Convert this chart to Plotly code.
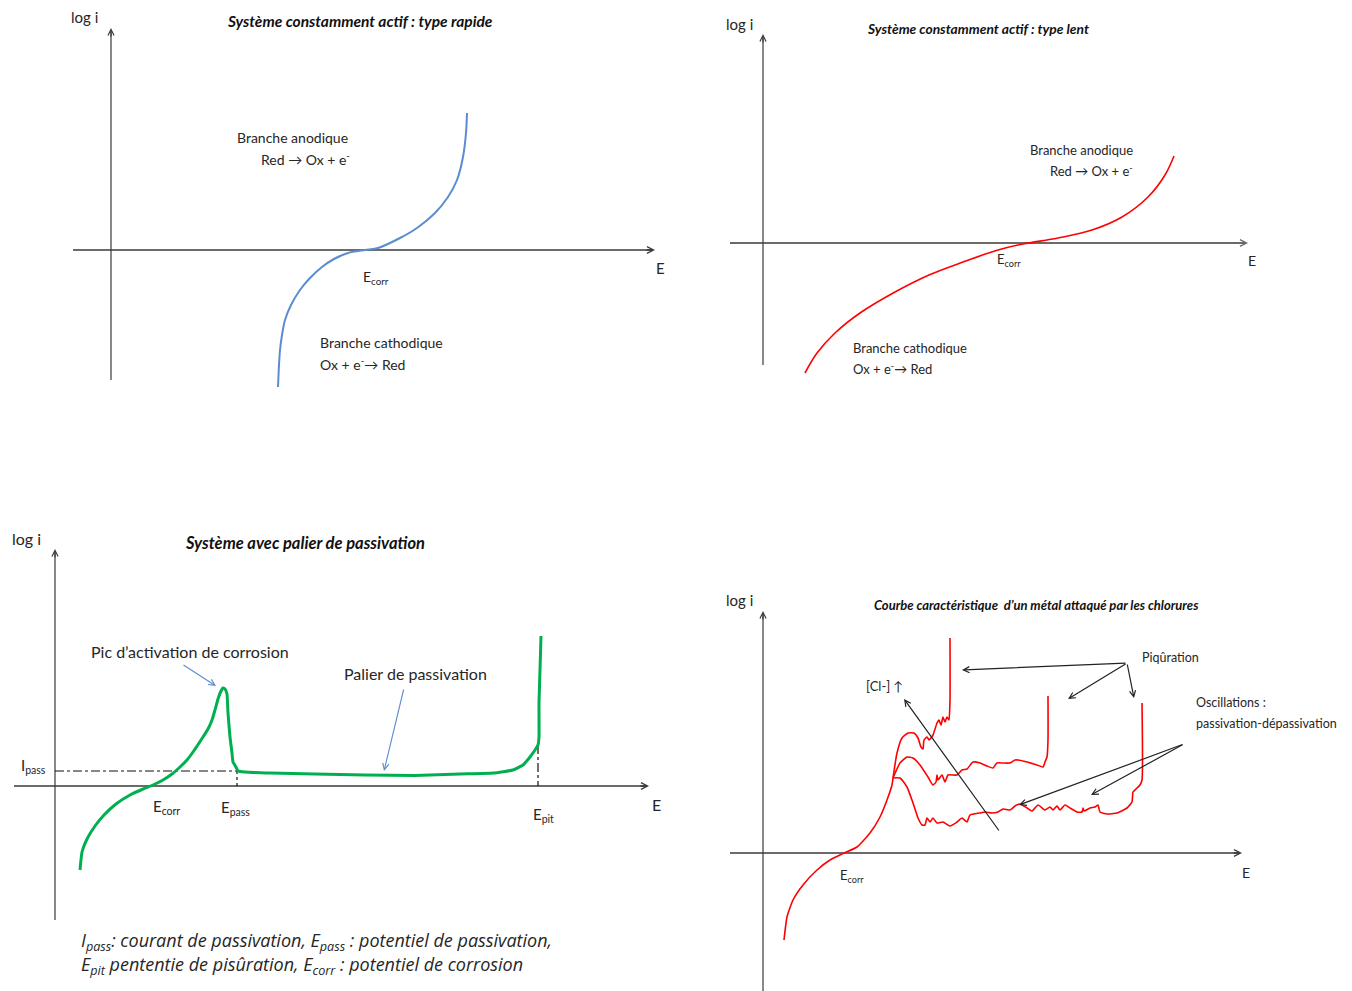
import plotly.graph_objects as go

W, H = 1352, 991
PX = 10.0  # screen pixels per diagram unit

SANS = "Lato"
ITAL = "Open Sans"
TXT = "#262626"
AXC = "#3a3a3a"

# ---------------- data: (E, log i) in diagram units, origin at the axis crossing ----------------
# Système constamment actif : type rapide
E_rapide = [16.7, 16.8, 16.9, 17.1, 17.4, 18.0, 18.9, 19.9, 21.1, 22.3, 23.7, 25.4, 26.7,
            28.9, 30.6, 32.4, 33.7, 34.6, 35.2, 35.5, 35.6]
logi_rapide = [-13.7, -11.5, -10.0, -8.5, -7.0, -5.5, -4.0, -2.8, -1.7, -0.9, -0.3, 0.0, 0.2,
               1.2, 2.2, 3.7, 5.3, 7.0, 9.3, 11.7, 13.7]

# Système constamment actif : type lent
E_lent = [4.2, 5.4, 7.2, 9.7, 13.2, 16.6, 20.0, 23.5, 26.0, 29.5, 32.9, 35.9, 38.5, 40.2, 41.1]
logi_lent = [-13.0, -11.0, -9.0, -7.0, -4.9, -3.2, -1.9, -0.7, -0.1, 0.5, 1.3, 2.6, 4.6, 6.8, 8.7]

# Système avec palier de passivation
E_passiv = [2.5, 2.7, 3.2, 4.0, 4.9, 6.1, 7.5, 8.8, 9.8, 10.8, 11.7, 12.5, 13.2, 13.8, 14.8,
            15.3, 15.7, 16.0, 16.3, 16.6, 16.8, 17.0, 17.2, 17.3, 17.5, 17.7, 17.8, 18.1, 18.3,
            19.0, 21.5, 26.0, 31.0, 36.0, 40.5, 43.8, 45.8, 46.8, 47.5, 48.0, 48.3, 48.4, 48.4,
            48.5, 48.6]
logi_passiv = [-8.4, -6.6, -5.3, -4.0, -2.9, -1.8, -0.9, -0.3, 0.1, 0.6, 1.2, 1.9, 2.6, 3.4,
               4.9, 5.7, 6.6, 7.6, 8.7, 9.5, 9.8, 9.7, 9.2, 7.3, 4.9, 3.3, 2.4, 1.9, 1.5, 1.4,
               1.3, 1.2, 1.1, 1.05, 1.2, 1.3, 1.6, 2.1, 2.9, 3.6, 4.1, 4.9, 8.3, 11.6, 15.0]
I_pass = 1.5
E_pass = 18.2
E_pit = 48.3
logi_pit_knee = 4.1

# Courbe caractéristique d'un métal attaqué par les chlorures
E_chl_base = [2.1, 2.4, 3.0, 4.0, 5.4, 6.7, 7.9, 9.4, 10.7, 11.7, 12.4, 12.9, 13.0]
logi_chl_base = [-8.7, -6.4, -4.7, -3.2, -1.7, -0.7, -0.1, 0.6, 2.0, 3.6, 5.3, 6.8, 7.5]

E_chl_fort = [13.0, 13.4, 13.9, 14.5, 15.1, 15.5, 15.8, 16.0, 16.1, 16.4, 16.6, 17.0, 17.4,
              17.6, 17.8, 18.0, 18.2, 18.4, 18.6, 18.7, 18.7]
logi_chl_fort = [7.5, 10.0, 11.5, 12.0, 12.0, 11.5, 10.6, 10.4, 11.3, 11.6, 11.3, 11.8, 13.0,
                 13.3, 12.8, 13.6, 13.1, 13.6, 13.3, 15.3, 21.5]

E_chl_moyen = [13.0, 13.7, 14.4, 15.0, 15.7, 16.5, 17.0, 17.3, 17.4, 17.5, 17.9, 18.2, 18.5,
               19.4, 19.9, 20.4, 21.0, 21.7, 22.4, 23.0, 23.4, 24.0, 24.7, 25.2, 25.5, 26.4,
               27.4, 28.0, 28.2, 28.4, 28.5, 28.5]
logi_chl_moyen = [7.5, 9.0, 9.6, 9.5, 8.8, 7.6, 6.8, 7.1, 7.8, 7.3, 7.8, 7.1, 7.8, 7.8, 8.3,
                  8.4, 9.1, 9.0, 8.7, 8.5, 9.0, 9.0, 9.0, 9.3, 9.3, 9.1, 8.8, 8.6, 9.1, 9.6,
                  11.3, 15.7]

E_chl_faible = [13.0, 13.7, 14.4, 15.0, 15.5, 15.9, 16.2, 16.4, 16.7, 17.0, 17.4, 18.0, 18.7,
                19.4, 19.9, 20.4, 20.7, 21.7, 22.2, 22.9, 23.5, 24.0, 24.7, 25.2, 25.7, 26.4,
                26.9, 27.5, 28.2, 28.7, 29.0, 29.4, 29.7, 30.2, 30.7, 31.4, 31.9, 32.0, 32.1,
                32.7, 33.2, 33.5, 33.7, 34.4, 35.4, 36.4, 36.9, 37.0, 37.4, 37.7, 37.9, 37.9]
logi_chl_faible = [7.5, 7.5, 6.6, 5.0, 3.5, 2.8, 2.8, 3.5, 3.1, 3.5, 3.0, 3.1, 2.7, 3.1, 3.5,
                   3.1, 3.8, 4.0, 4.1, 4.0, 4.1, 4.4, 4.3, 4.7, 4.9, 4.5, 4.2, 4.8, 4.3, 4.6,
                   4.3, 4.7, 4.3, 4.8, 4.5, 4.1, 4.1, 4.5, 4.2, 4.5, 4.6, 4.8, 4.1, 3.9, 4.0,
                   4.5, 5.1, 6.1, 6.5, 6.8, 7.3, 15.0]

# ---------------- diagram frames (pixel boxes and axis-crossing points) ----------------
panels = {
    "1": dict(box=(0, 0, 676, 495), origin=(111, 250), E_axis=(-3.8, 54.4), i_axis=(-13.0, 22.2),
              e_width=1.4, e_color=AXC),
    "2": dict(box=(676, 0, 1352, 495), origin=(763, 243), E_axis=(-3.3, 48.5), i_axis=(-12.2, 20.9),
              e_width=2.2, e_color="#6a6a6a"),
    "3": dict(box=(0, 495, 676, 991), origin=(55, 786), E_axis=(-4.1, 59.4), i_axis=(-13.4, 23.7),
              e_width=1.4, e_color=AXC),
    "4": dict(box=(676, 495, 1352, 991), origin=(763, 853), E_axis=(-3.3, 47.9), i_axis=(-13.8, 24.2),
              e_width=1.4, e_color=AXC),
}


def refs(k):
    return ("x", "y") if k == "1" else ("x" + k, "y" + k)


fig = go.Figure()
layout_axes = {}
for k, p in panels.items():
    x0, y0, x1, y1 = p["box"]
    ox, oy = p["origin"]
    xn = "xaxis" if k == "1" else "xaxis" + k
    yn = "yaxis" if k == "1" else "yaxis" + k
    xr, yr = refs(k)
    layout_axes[xn] = dict(domain=[x0 / W, x1 / W], range=[(x0 - ox) / PX, (x1 - ox) / PX],
                           visible=False, fixedrange=True, anchor=yr)
    layout_axes[yn] = dict(domain=[1 - y1 / H, 1 - y0 / H], range=[(oy - y1) / PX, (oy - y0) / PX],
                           visible=False, fixedrange=True, anchor=xr)


def curve(k, xs, ys, color, width, smoothing=0.6, dash="solid", shape="spline"):
    xr, yr = refs(k)
    line = dict(color=color, width=width, dash=dash, shape=shape)
    if shape == "spline":
        line["smoothing"] = smoothing
    fig.add_trace(go.Scatter(x=xs, y=ys, mode="lines", line=line, xaxis=xr, yaxis=yr,
                             hoverinfo="skip", showlegend=False))


annotations = []


def arrow(k, tail, head, color=AXC, width=1.3, size=1.0):
    xr, yr = refs(k)
    annotations.append(dict(xref=xr, yref=yr, axref=xr, ayref=yr, x=head[0], y=head[1],
                            ax=tail[0], ay=tail[1], text="", showarrow=True, arrowhead=5,
                            arrowsize=size, arrowwidth=width, arrowcolor=color,
                            standoff=0, startstandoff=0))


def label(k, x, y, text, size=14, family=SANS, color=TXT, xanchor="center", weight="normal",
          style="normal", align="left"):
    xr, yr = refs(k)
    annotations.append(dict(xref=xr, yref=yr, x=x, y=y, text=text, showarrow=False,
                            xanchor=xanchor, yanchor="middle", align=align,
                            font=dict(family=family, size=size, color=color, weight=weight,
                                      style=style)))


# axes with arrow heads
for k, p in panels.items():
    e0, e1 = p["E_axis"]
    i0, i1 = p["i_axis"]
    curve(k, [e0, e1 - 0.3], [0, 0], p["e_color"], p["e_width"], shape="linear")
    arrow(k, (e1 - 1.0, 0), (e1, 0), color=p["e_color"], width=1.3, size=1.0)
    curve(k, [0, 0], [i0, i1 - 0.3], AXC, 1.2, shape="linear")
    arrow(k, (0, i1 - 1.0), (0, i1), color=AXC, width=1.2, size=1.0)

# ---- diagram 1 ----
curve("1", E_rapide, logi_rapide, "#5b8cd1", 2.0, smoothing=0.8)
label("1", -2.7, 23.3, "log i", size=15)
label("1", 24.9, 22.9, "Système constamment actif : type rapide", size=15.5,
      color="#111", weight="bold", style="italic")
label("1", 12.4, 11.3, "Branche anodique", xanchor="left")
label("1", 14.8, 9.2, "Red → Ox + e<sup>-</sup>", xanchor="left")
label("1", 26.5, -2.7, "E<sub>corr</sub>")
label("1", 54.9, -1.8, "E", size=15)
label("1", 20.7, -9.2, "Branche cathodique", xanchor="left")
label("1", 20.7, -11.3, "Ox + e<sup>-</sup>→ Red", xanchor="left")

# ---- diagram 2 ----
curve("2", E_lent, logi_lent, "#ff0000", 1.6, smoothing=1.0)
label("2", -2.4, 21.9, "log i", size=15)
label("2", 21.5, 21.5, "Système constamment actif : type lent", size=13.8,
      color="#111", weight="bold", style="italic")
label("2", 37.2, 9.3, "Branche anodique", size=13, xanchor="right")
label("2", 37.2, 7.3, "Red → Ox + e<sup>-</sup>", size=13, xanchor="right")
label("2", 24.6, -1.7, "E<sub>corr</sub>", size=13)
label("2", 48.9, -1.7, "E", size=14)
label("2", 8.8, -10.5, "Branche cathodique", size=13, xanchor="left")
label("2", 8.8, -12.5, "Ox + e<sup>-</sup>→ Red", size=13, xanchor="left")

# ---- diagram 3 ----
curve("3", [0, E_pass], [I_pass, I_pass], "#111", 1.2, dash="dashdot", shape="linear")
curve("3", [E_pass, E_pass], [I_pass, 0], "#111", 1.2, dash="dot", shape="linear")
curve("3", [E_pit, E_pit], [logi_pit_knee, 0], "#111", 1.2, dash="dashdot", shape="linear")
curve("3", E_passiv, logi_passiv, "#00b050", 3.0, smoothing=0.4)
label("3", -2.9, 24.8, "log i", size=16)
label("3", 25.0, 24.3, "Système avec palier de passivation", size=16.5,
      color="#111", weight="bold", style="italic")
label("3", 13.5, 13.5, "Pic d’activation de corrosion", size=16)
arrow("3", (12.7, 12.2), (16.1, 10.0), color="#5b8cd1", width=1.1, size=1.1)
label("3", 36.0, 11.3, "Palier de passivation", size=16)
arrow("3", (34.9, 9.8), (32.9, 1.5), color="#5b8cd1", width=1.1, size=1.1)
label("3", -3.6, 2.0, "I<sub>pass</sub>", size=15, xanchor="left")
label("3", 11.1, -2.1, "E<sub>corr</sub>", size=15)
label("3", 18.0, -2.2, "E<sub>pass</sub>", size=15)
label("3", 48.8, -2.9, "E<sub>pit</sub>", size=15)
label("3", 60.1, -1.8, "E", size=16)
label("3", 2.4, -15.5, "I<sub>pass</sub>: courant de passivation, E<sub>pass</sub> : potentiel de passivation,",
      size=18, family=ITAL, xanchor="left", style="italic")
label("3", 2.4, -17.9, "E<sub>pit</sub> pententie de pisûration, E<sub>corr</sub> : potentiel de corrosion",
      size=18, family=ITAL, xanchor="left", style="italic")

# ---- diagram 4 ----
for xs, ys in [(E_chl_base, logi_chl_base), (E_chl_fort, logi_chl_fort),
               (E_chl_moyen, logi_chl_moyen), (E_chl_faible, logi_chl_faible)]:
    curve("4", xs, ys, "#ff0000", 1.6, smoothing=0.5)
arrow("4", (23.7, 2.1), (14.1, 15.4), color="#222", width=1.2, size=1.0)
label("4", 12.1, 16.7, "[Cl-] ↑", size=13)
label("4", -2.4, 25.3, "log i", size=15)
label("4", 27.3, 24.8, "Courbe caractéristique  d’un métal attaqué par les chlorures", size=13,
      color="#111", weight="bold", style="italic")
label("4", 8.9, -2.3, "E<sub>corr</sub>", size=13)
label("4", 48.3, -1.9, "E", size=14)
label("4", 40.7, 19.6, "Piqûration", size=12.5)
for head in [(19.9, 18.3), (30.5, 15.4), (37.1, 15.5)]:
    arrow("4", (36.4, 19.0), head, color="#222", width=1.2, size=1.0)
label("4", 43.1, 15.1, "Oscillations :", size=12.5, xanchor="left")
label("4", 43.1, 13.0, "passivation-dépassivation", size=12.5, xanchor="left")
for head in [(25.6, 4.8), (32.8, 5.8)]:
    arrow("4", (42.1, 10.9), head, color="#222", width=1.2, size=1.0)

fig.update_layout(width=W, height=H, margin=dict(l=0, r=0, t=0, b=0),
                  paper_bgcolor="white", plot_bgcolor="white", showlegend=False,
                  annotations=annotations, **layout_axes)
fig.write_html("out.html")
